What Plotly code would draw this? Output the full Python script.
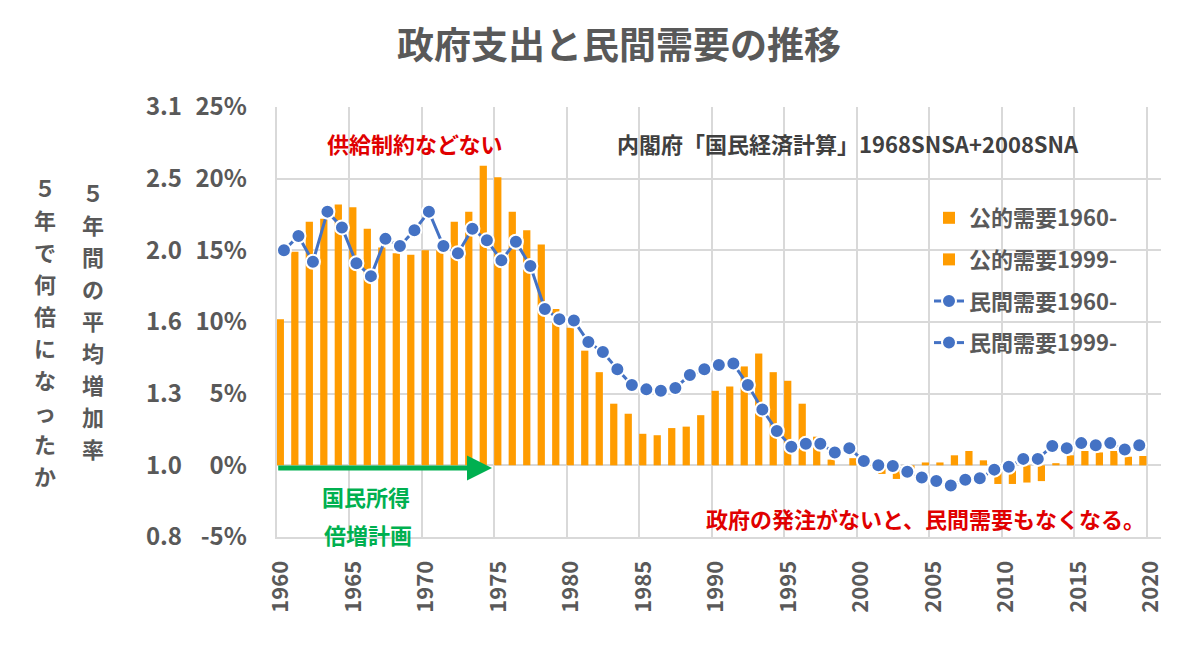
import plotly.graph_objects as go

# 5年間の平均増加率 (%)
years_a = list(range(1960, 1999))
years_b = list(range(1999, 2020))

public_a = [10.2, 14.9, 17.0, 17.2, 18.2, 18.0, 16.5, 15.2, 14.8, 14.7,
            15.0, 15.0, 17.0, 17.7, 20.9, 20.1, 17.7, 16.4, 15.4, 10.9,
            9.6, 8.0, 6.5, 4.3, 3.6, 2.2, 2.1, 2.6, 2.7, 3.5,
            5.2, 5.5, 6.9, 7.8, 6.5, 5.9, 4.3, 2.0, 0.4]
public_b = [0.5, 0.1, -0.6, -0.95, -0.4, 0.2, 0.2, 0.7, 1.0, 0.35,
            -1.3, -1.3, -1.2, -1.1, 0.15, 0.7, 1.0, 0.9, 1.0, 0.6, 0.65]

private_a = [15.0, 16.0, 14.2, 17.7, 16.6, 14.1, 13.2, 15.8, 15.3, 16.4,
             17.7, 15.3, 14.8, 16.5, 15.7, 14.3, 15.6, 13.9, 10.9, 10.2,
             10.1, 8.6, 7.9, 6.7, 5.6, 5.3, 5.2, 5.4, 6.3, 6.7,
             7.0, 7.1, 5.6, 3.9, 2.4, 1.3, 1.5, 1.5, 0.9]
private_b = [1.2, 0.3, 0.0, -0.05, -0.45, -0.85, -1.1, -1.4, -1.0, -0.9,
             -0.3, -0.1, 0.45, 0.45, 1.35, 1.2, 1.55, 1.4, 1.55, 1.1, 1.4]

pct_ticks = [-5, 0, 5, 10, 15, 20, 25]
pct_text = ["-5%", "0%", "5%", "10%", "15%", "20%", "25%"]
times_text = ["0.8", "1.0", "1.3", "1.6", "2.0", "2.5", "3.1"]
year_ticks = list(range(1960, 2021, 5))

FONT = "Noto Sans CJK JP"
GREY = "#595959"
ORANGE = "#FF9C00"
BLUE = "#4472C4"
RED = "#E00000"
GREEN = "#00B050"
GRID = "#D9D9D9"

# plot area in pixels
W, H = 1199, 655
L_PX, R_PX, T_PX, B_PX = 276.7, 1161, 107, 537


def px_x(p):
    return p / R_PX


def px_y(p):
    return (B_PX - p) / (B_PX - T_PX)


fig = go.Figure()
fig.add_trace(go.Bar(x=years_a, y=public_a, offset=0, width=0.5,
                     marker=dict(color=ORANGE, line_width=0),
                     name="公的需要1960-", legendgroup="g1"))
fig.add_trace(go.Bar(x=years_b, y=public_b, offset=0.5, width=0.5,
                     marker=dict(color=ORANGE, line_width=0),
                     name="公的需要1999-", legendgroup="g2"))
for yrs, vals, nm, grp in [(years_a, private_a, "民間需要1960-", "g3"),
                           (years_b, private_b, "民間需要1999-", "g4")]:
    fig.add_trace(go.Scatter(
        x=[y + 0.5 for y in yrs], y=vals, mode="lines+markers", name=nm,
        legendgroup=grp,
        line=dict(color=BLUE, width=3),
        marker=dict(size=14, color=BLUE, line=dict(color="white", width=2)),
    ))
# carrier for the multiplier axis
fig.add_trace(go.Scatter(x=[1960], y=[0], yaxis="y2", mode="markers",
                         marker=dict(opacity=0), showlegend=False,
                         hoverinfo="skip"))

annos = [
    dict(text="供給制約などない", x=px_x(415), y=px_y(143), color=RED),
    dict(text="内閣府「国民経済計算」1968SNSA+2008SNA", x=px_x(848), y=px_y(143),
         color="#404040"),
    dict(text="政府の発注がないと、民間需要もなくなる。", x=px_x(925), y=px_y(518),
         color=RED),
    dict(text="国民所得", x=px_x(366), y=px_y(496), color=GREEN),
    dict(text="倍増計画", x=px_x(368), y=px_y(534), color=GREEN),
]
for a in annos:
    fig.add_annotation(text=a["text"], x=a["x"], y=a["y"], xref="paper",
                       yref="paper", showarrow=False, xanchor="center",
                       yanchor="middle",
                       font=dict(family=FONT, size=22, color=a["color"],
                                 weight="bold"))

# vertical axis titles, one character per line
STEP = 32
for txt, cx, cy in [("５年間の平均増加率", 93, 320), ("５年で何倍になったか", 45, 331)]:
    y0 = cy - STEP * (len(txt) - 1) / 2
    for i, ch in enumerate(txt):
        fig.add_annotation(text=ch, x=px_x(cx), y=px_y(y0 + i * STEP),
                           xref="paper", yref="paper", showarrow=False,
                           xanchor="center", yanchor="middle",
                           font=dict(family=FONT, size=22, color=GREY,
                                     weight="bold"))

# 所得倍増計画 arrow
fig.add_annotation(x=1974.85, y=-0.18, ax=1960, ay=-0.18, xref="x", yref="y",
                   axref="x", ayref="y", text="", showarrow=True,
                   arrowhead=2, arrowsize=1.0, arrowwidth=5,
                   arrowcolor=GREEN, standoff=0, startstandoff=0)

fig.update_layout(
    width=W, height=H,
    margin=dict(l=0, r=W - R_PX, t=T_PX, b=H - B_PX),
    paper_bgcolor="white", plot_bgcolor="white",
    barmode="overlay",
    title=dict(text="政府支出と民間需要の推移", x=619 / W, xanchor="center",
               y=1 - 46 / H, yanchor="middle",
               font=dict(family=FONT, size=37, color=GREY, weight="bold")),
    font=dict(family=FONT, color=GREY),
    legend=dict(x=px_x(929), y=px_y(197), xanchor="left", yanchor="top",
                bgcolor="rgba(0,0,0,0)", traceorder="grouped",
                tracegroupgap=10,
                font=dict(family=FONT, size=22, color=GREY, weight="bold")),
    xaxis=dict(range=[1960, 2021], domain=[L_PX / R_PX, 1],
               tickmode="array", tickvals=[y + 0.3 for y in year_ticks],
               ticktext=[str(y) for y in year_ticks], tickangle=-90,
               showgrid=False, ticks="", ticklabelstandoff=13,
               showline=True, linecolor=GRID, linewidth=2,
               minor=dict(tickmode="array", tickvals=year_ticks,
                          showgrid=True, gridcolor=GRID, gridwidth=2),
               tickfont=dict(family=FONT, size=22, color=GREY, weight="bold"),
               automargin=False),
    yaxis=dict(range=[-5, 25], tickmode="array", tickvals=pct_ticks,
               ticktext=pct_text, showgrid=True, gridcolor=GRID, gridwidth=2,
               zeroline=False, ticks="", ticklabelstandoff=23,
               showline=True, linecolor=GRID, linewidth=2,
               tickfont=dict(family=FONT, size=24, color=GREY, weight="bold"),
               automargin=False),
    yaxis2=dict(range=[-5, 25], overlaying="y", anchor="free",
                position=px_x(186), side="left", tickmode="array",
                tickvals=pct_ticks, ticktext=times_text, showgrid=False,
                zeroline=False, showline=False, ticks="", ticklabelstandoff=4,
                tickfont=dict(family=FONT, size=24, color=GREY, weight="bold"),
                automargin=False),
)

# the page body has an 8px default margin; drop it so pixels line up
fig.write_html("out.html", config={"displayModeBar": False},
               post_script="document.body.style.margin='0';")
